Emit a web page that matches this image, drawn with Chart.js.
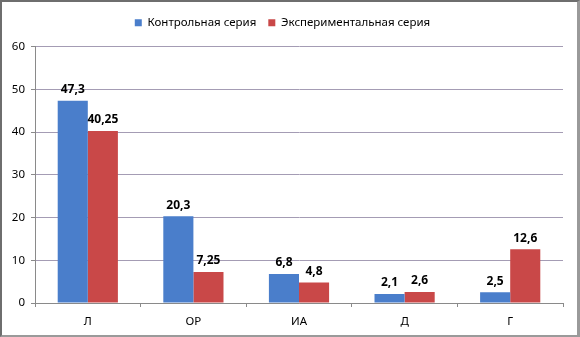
<!DOCTYPE html>
<html>
<head>
<meta charset="utf-8">
<script src="https://cdn.jsdelivr.net/npm/chart.js@4/dist/chart.umd.min.js"></script>
<style>
  html, body { margin: 0; padding: 0; background: #fff; }
  .frame {
    width: 580px; height: 337px; box-sizing: border-box;
    border-left: 2px solid #6e6e6e; border-top: 2px solid #6e6e6e;
    border-right: 3px solid #9a9a9a; border-bottom: 2px solid #9a9a9a;
  }
  canvas { display: block; }
</style>
</head>
<body>
<div class="frame">
  <canvas id="chart" width="575" height="333"></canvas>
</div>
<script>
const categories = [`Л`, `ОР`, `ИА`, `Д`, `Г`];
const controlValues = [47.3, 20.3, 6.8, 2.1, 2.5];
const experimentValues = [40.25, 7.25, 4.8, 2.6, 12.6];
const seriesNames = [`Контрольная серия`, `Экспериментальная серия`];

const FONT = `"Noto Sans", "Open Sans", sans-serif`;

const formatValue = (val) => String(val).replace(`.`, `,`);

// simple value labels above each bar
const barLabels = {
  id: `barLabels`,
  afterDatasetsDraw(chart) {
    const ctx = chart.ctx;
    ctx.save();
    ctx.font = `bold 12px ${FONT}`;
    ctx.fillStyle = `#000000`;
    ctx.textAlign = `center`;
    ctx.textBaseline = `bottom`;
    chart.data.datasets.forEach((ds, i) => {
      chart.getDatasetMeta(i).data.forEach((bar, j) => {
        ctx.fillText(formatValue(ds.data[j]), bar.x, bar.y - 5);
      });
    });
    ctx.restore();
  }
};

// extra space under the legend
const legendSpace = {
  id: `legendSpace`,
  beforeInit(chart) {
    const fit = chart.legend.fit;
    chart.legend.fit = function() {
      fit.bind(chart.legend)();
      this.height += 8;
    };
  }
};

new Chart(document.getElementById(`chart`), {
  type: `bar`,
  plugins: [barLabels, legendSpace],
  data: {
    labels: categories,
    datasets: [{
      label: seriesNames[0],
      data: controlValues,
      backgroundColor: `#4a7ecb`,
      borderColor: `#4a7ecb`,
      borderWidth: 0,
    }, {
      label: seriesNames[1],
      data: experimentValues,
      backgroundColor: `#c94848`,
      borderColor: `#c94848`,
      borderWidth: 0,
    }]
  },
  options: {
    animation: false,
    responsive: false,
    categoryPercentage: 0.57,
    barPercentage: 1,
    layout: {
      padding: {top: 3, right: 14, bottom: 0, left: 0}
    },
    plugins: {
      legend: {
        position: `top`,
        labels: {
          boxWidth: 7,
          boxHeight: 7,
          padding: 12,
          color: `#000000`,
          font: {family: FONT, size: 11.5},
        }
      },
      tooltip: {enabled: false},
    },
    scales: {
      y: {
        min: 0,
        max: 60,
        ticks: {
          stepSize: 10,
          color: `#000000`,
          padding: 6,
          font: {family: FONT, size: 11.5},
        },
        grid: {
          color: `#a49cb4`,
          tickColor: `#8a8a8a`,
          tickLength: 4,
        },
        border: {
          display: true,
          color: `#8a8a8a`,
        },
        afterFit: (scale) => {
          scale.width = 33;
        },
      },
      x: {
        ticks: {
          color: `#000000`,
          padding: 8,
          font: {family: FONT, size: 11.5},
        },
        grid: {
          drawOnChartArea: false,
          tickColor: `#8a8a8a`,
          tickLength: 4,
        },
        border: {
          display: true,
          color: `#8a8a8a`,
        },
        afterFit: (scale) => {
          scale.height = 32;
        },
      },
    }
  }
});
</script>
</body>
</html>
